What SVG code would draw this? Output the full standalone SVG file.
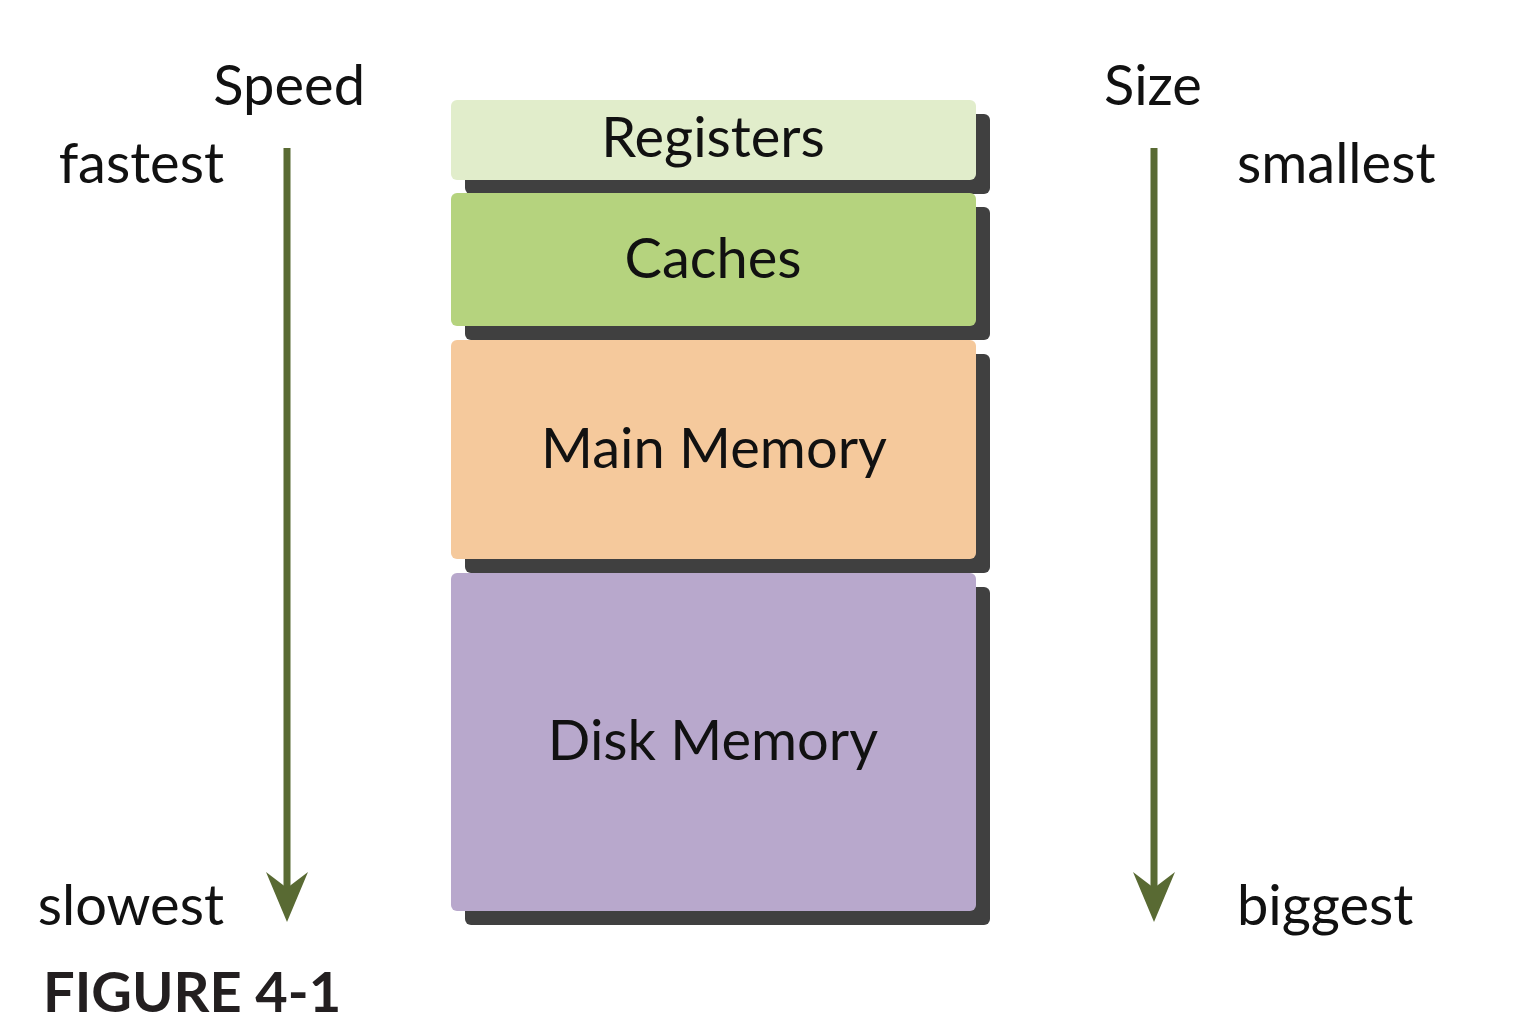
<svg xmlns="http://www.w3.org/2000/svg" width="1526" height="1028" viewBox="0 0 1526 1028">
<style>
.t{font-family:Lato,"Open Sans","Liberation Sans",sans-serif;font-size:56px;fill:#111}
.c{text-anchor:middle}
.sh{fill:#404040}
.ax{stroke:#596a33;stroke-width:7;fill:none}
.ah{fill:#596a33}
.fig{font-family:Lato,"Liberation Sans",sans-serif;font-size:56px;font-weight:bold;fill:#231f20}
</style>
<rect width="1526" height="1028" fill="#fff"/>
<g id="registers">
<rect class="sh" x="465" y="114" width="525" height="80" rx="6"/>
<rect x="451" y="100" width="525" height="80" rx="6" fill="#e1edcb"/>
<text class="t c" x="713" y="157">Registers</text>
</g>
<g id="caches">
<rect class="sh" x="465" y="207" width="525" height="133" rx="6"/>
<rect x="451" y="193" width="525" height="133" rx="6" fill="#b5d37e"/>
<text class="t c" x="713" y="278">Caches</text>
</g>
<g id="main-memory">
<rect class="sh" x="465" y="354" width="525" height="219" rx="6"/>
<rect x="451" y="340" width="525" height="219" rx="6" fill="#f5c99c"/>
<text class="t c" x="714" y="468">Main Memory</text>
</g>
<g id="disk-memory">
<rect class="sh" x="465" y="587" width="525" height="338" rx="6"/>
<rect x="451" y="573" width="525" height="338" rx="6" fill="#b8a8cc"/>
<text class="t c" x="713" y="760">Disk Memory</text>
</g>
<g id="connectors">
<line class="ax" x1="287" y1="148" x2="287" y2="890"/>
<polygon class="ah" points="266,872 287,888 308,872 287,922"/>
<line class="ax" x1="1154" y1="148" x2="1154" y2="890"/>
<polygon class="ah" points="1133,872 1154,888 1175,872 1154,922"/>
</g>
<g id="labels">
<text class="t" x="365" y="105" text-anchor="end">Speed</text>
<text class="t" x="224" y="183" text-anchor="end">fastest</text>
<text class="t" x="224" y="925" text-anchor="end">slowest</text>
<text class="t" x="1104" y="105">Size</text>
<text class="t" x="1237" y="183">smallest</text>
<text class="t" x="1237" y="925">biggest</text>
<text class="fig" x="43" y="1012">FIGURE 4-1</text>
</g>
</svg>
